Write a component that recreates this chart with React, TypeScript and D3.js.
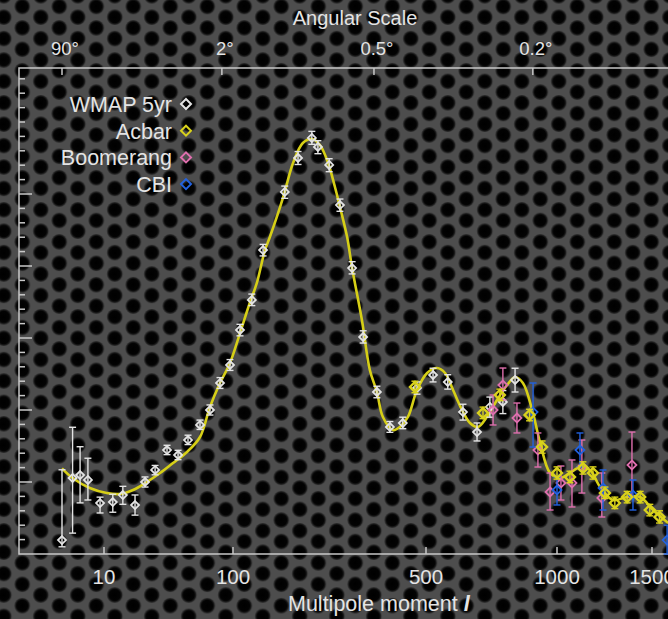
import React from "react";
import * as d3 from "d3";

// theory curve (l, D_l in uK^2)
const theoryL = [2, 3, 5.8, 10.5, 13.3, 16.8, 21.5, 27.2, 34.3, 44, 55.5, 66.3, 79.3, 94.8, 106, 115, 122, 130.6, 136, 152, 165, 179, 193, 206.5, 221, 234, 244, 259, 270, 293, 313, 332, 349, 380, 402, 430, 464, 503, 530, 553, 577, 605, 631, 658, 690, 728, 768, 801, 835, 877, 915, 964, 1013, 1057, 1103, 1151, 1202, 1270, 1349, 1426, 1507, 1607];
const theoryD = [1190, 1056, 917, 847, 833, 889, 1000, 1125, 1264, 1417, 1625, 2042, 2375, 2653, 3069, 3486, 3764, 4222, 4403, 4958, 5431, 5708, 5764, 5680, 5431, 5097, 4819, 4403, 3972, 3250, 2556, 2250, 1903, 1722, 1764, 1903, 2278, 2514, 2583, 2514, 2278, 2000, 1819, 1764, 1903, 2139, 2347, 2458, 2375, 2000, 1542, 1125, 1056, 1125, 1208, 1167, 931, 750, 792, 792, 611, 431];

// [l, D, low, high]
const wmap = [
  [2, 194, 100, 1170], [3, 1056, 290, 1760], [4, 1097, 710, 1490], [5.4, 1028, 750, 1330],
  [8.6, 708, 570, 790], [11.7, 722, 580, 830], [14, 819, 690, 940], [17.4, 680, 540, 820],
  [20.8, 1000, 930, 1070], [24.9, 1167, 1100, 1230], [30.8, 1444, 1380, 1510], [37.5, 1375, 1310, 1440],
  [44.8, 1583, 1520, 1650], [55.5, 1792, 1730, 1860], [66.3, 2000, 1930, 2070], [79.3, 2375, 2300, 2450],
  [94.8, 2625, 2550, 2700], [106, 3111, 3030, 3190], [117, 3528, 3450, 3610], [128.5, 4222, 4140, 4300],
  [154, 5028, 4940, 5110], [172, 5500, 5410, 5590], [193, 5778, 5690, 5870], [203, 5653, 5560, 5740],
  [223, 5403, 5310, 5490], [244, 4847, 4760, 4930], [270, 3972, 3890, 4060], [296, 3014, 2930, 3100],
  [332, 2250, 2170, 2330], [370, 1764, 1690, 1840], [412, 1819, 1740, 1900], [464, 2306, 2220, 2390],
  [519, 2486, 2390, 2580], [561, 2389, 2290, 2490], [608, 1972, 1860, 2080], [655, 1694, 1570, 1820],
  [701, 2042, 1900, 2180], [751, 2111, 1950, 2270], [801, 2417, 2250, 2580],
];
const acbar = [
  [456, 2320, 2240, 2400], [676, 1958, 1880, 2040], [739, 2208, 2130, 2290], [865, 1931, 1850, 2010],
  [924, 1486, 1400, 1570], [1000, 1125, 1040, 1210], [1057, 1069, 990, 1150], [1117, 1194, 1110, 1280],
  [1166, 1125, 1040, 1210], [1227, 847, 770, 930], [1280, 708, 630, 790], [1349, 792, 710, 870],
  [1426, 792, 710, 870], [1486, 611, 530, 690], [1549, 514, 430, 600],
];
const boomerang = [
  [713, 2000, 1792, 2208], [751, 2347, 2139, 2583], [809, 1889, 1681, 2097], [904, 1444, 1208, 1681],
  [964, 861, 611, 1125], [1017, 986, 750, 1222], [1066, 986, 653, 1306], [1112, 1208, 847, 1583],
  [1211, 778, 514, 1125], [1377, 1236, 792, 1694],
];
const cbi = [
  [881, 1972, 1486, 2375], [1000, 889, 681, 1069], [1103, 1444, 1208, 1681],
  [1217, 917, 611, 1167], [1383, 819, 611, 1028], [1600, 194, 0, 400],
];

const bottomTicks = [10, 100, 500, 1000, 1500];
const topTickLabels = ["90°", "2°", "0.5°", "0.2°"];
const topTickL = [2, 82, 324, 880];
const legendNames = ["WMAP 5yr", "Acbar", "Boomerang", "CBI"];
const legendColors = ["#e4e4e4", "#d9d21c", "#df6fae", "#2262e0"];

const W = 668;
const H = 619;
const left = 19;
const top = 68;
const bottom = 554;

// x axis is log-ish but stretched piecewise, as in the picture
const knotL = [2, 10, 100, 500, 1000, 1500];
const knotPx = [62, 104, 233, 426, 557, 652];
const xs = d3.scaleLinear().domain(knotL.map(Math.log10)).range(knotPx);
const x = (l: number) => xs(Math.log10(l));
const y = d3.scaleLinear().domain([0, 6750]).range([bottom, top]);

const font = "'Liberation Sans', Arial, Helvetica, sans-serif";

const Diamond = ({ cx, cy, r, color, sw }: any) => (
  <path
    d={`M${cx},${cy - r}L${cx + r},${cy}L${cx},${cy + r}L${cx - r},${cy}Z`}
    fill="none"
    stroke={color}
    strokeWidth={sw}
  />
);

const Points = ({ data, color, r, sw }: any) => (
  <g>
    {data.map((d: number[], i: number) => {
      const cx = x(d[0]);
      const cy = y(d[1]);
      const y0 = y(d[2]);
      const y1 = y(d[3]);
      return (
        <g key={i} stroke={color} strokeWidth={1.4}>
          <line x1={cx} x2={cx} y1={y0} y2={y1} />
          <line x1={cx - 3.5} x2={cx + 3.5} y1={y0} y2={y0} />
          <line x1={cx - 3.5} x2={cx + 3.5} y1={y1} y2={y1} />
          <Diamond cx={cx} cy={cy} r={r} color={color} sw={sw} />
        </g>
      );
    })}
  </g>
);

export default function App() {
  const line = d3
    .line<number>()
    .x((_d, i) => x(theoryL[i]))
    .y((d) => y(d))
    .curve(d3.curveCatmullRom.alpha(0.5));

  const minor = d3.range(200, 6700, 200);
  const major = [1000, 2000, 3000, 4000, 5000];

  return (
    <svg
      width={W}
      height={H}
      style={{ position: "absolute", left: 0, top: 0, display: "block" }}
      fontFamily={font}
    >
      <defs>
        <radialGradient id="hole">
          <stop offset="0%" stopColor="#000" />
          <stop offset="72%" stopColor="#030303" />
          <stop offset="100%" stopColor="#303030" />
        </radialGradient>
        <pattern id="metal" width={37} height={21.4} patternUnits="userSpaceOnUse" x={22.3} y={6.5}>
          <rect width={37} height={21.4} fill="#4d4d4d" />
          {[
            [0, 0], [37, 0], [0, 21.4], [37, 21.4], [18.5, 10.7],
          ].map(([cx, cy], i) => (
            <circle key={i} cx={cx} cy={cy} r={7.8} fill="url(#hole)" />
          ))}
        </pattern>
        <clipPath id="plot">
          <rect x={left} y={top - 10} width={W - left} height={bottom - top + 20} />
        </clipPath>
      </defs>
      <rect width={W} height={H} fill="url(#metal)" />

      {/* axes frame */}
      <g stroke="#c8c8c8" strokeWidth={1.5} fill="none">
        <path d={`M${W},${top}H${left}V${bottom}H${W}`} />
        {minor.map((v) => (
          <line key={v} x1={left} x2={left + (major.includes(v) ? 13 : 6)} y1={y(v)} y2={y(v)} />
        ))}
        {bottomTicks.map((l) => (
          <line key={l} x1={x(l)} x2={x(l)} y1={bottom} y2={bottom - 7} />
        ))}
        {topTickL.map((l) => (
          <line key={l} x1={x(l)} x2={x(l)} y1={top} y2={top + 7} />
        ))}
      </g>

      {/* axis texts */}
      <g fill="#e4e4e4" textAnchor="middle">
        <text x={355} y={25} fontSize={20}>Angular Scale</text>
        {topTickL.map((l, i) => (
          <text key={l} x={x(l) + 3} y={55} fontSize={18.5}>{topTickLabels[i]}</text>
        ))}
        {bottomTicks.map((l) => (
          <text key={l} x={x(l)} y={584} fontSize={20.5}>{l}</text>
        ))}
        <text x={288} y={611} fontSize={21.5} textAnchor="start">
          Multipole moment{"  "}
          <tspan fontStyle="italic" fontWeight="bold">l</tspan>
        </text>
      </g>

      <g clipPath="url(#plot)">
        <path d={line(theoryD) || ""} fill="none" stroke="#d6cf16" strokeWidth={2.6} />
        <Points data={wmap} color="#e4e4e4" r={4} sw={1.8} />
        <Points data={boomerang} color="#df6fae" r={4.5} sw={1.8} />
        <Points data={cbi} color="#2262e0" r={4.5} sw={1.8} />
        <Points data={acbar} color="#d9d21c" r={5} sw={2.4} />
      </g>

      {/* legend */}
      {legendNames.map((name, i) => (
        <g key={name}>
          <text x={172} y={112 + i * 26.7} fontSize={21.5} fill="#e4e4e4" textAnchor="end">
            {name}
          </text>
          <Diamond cx={186} cy={104 + i * 26.7} r={5} color={legendColors[i]} sw={2} />
        </g>
      ))}
    </svg>
  );
}
